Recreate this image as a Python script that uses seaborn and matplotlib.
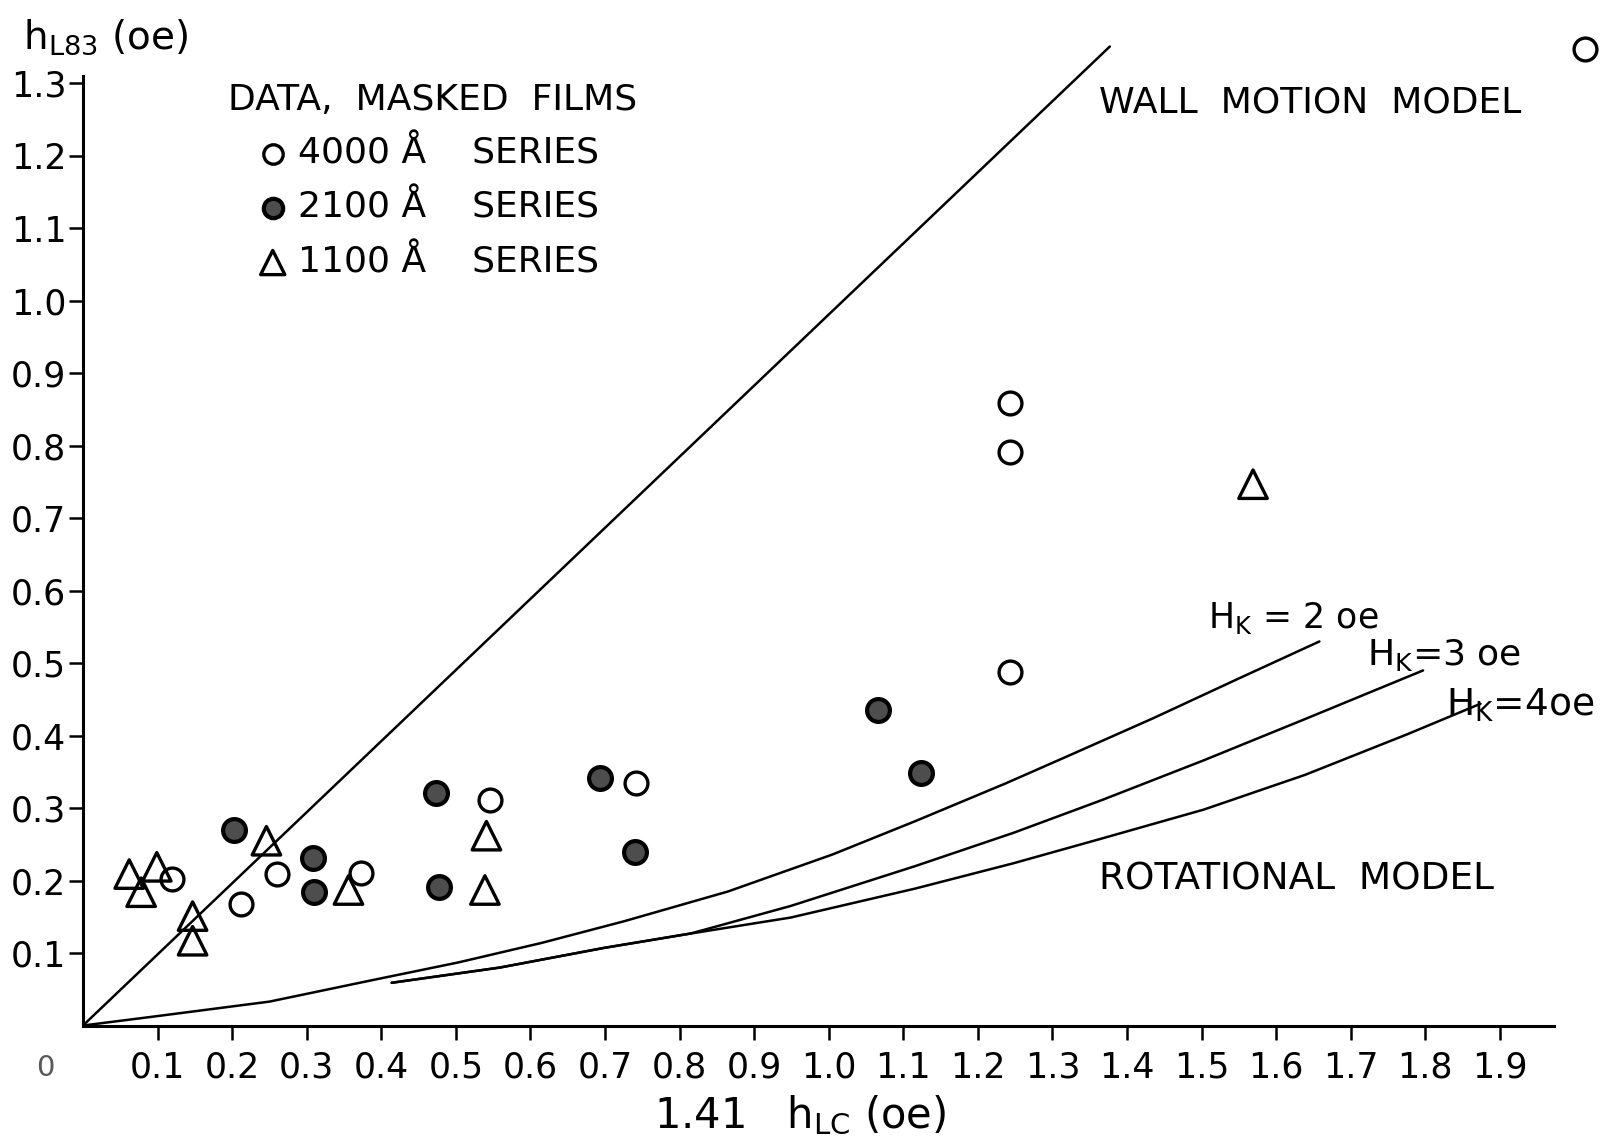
import numpy as np
import pandas as pd
import matplotlib
matplotlib.use("Agg")
import matplotlib.pyplot as plt
import seaborn as sns

# ---------------- data ----------------
# 4000 A series (open circles)
s4000_x = [2.014, 1.243, 1.243, 1.243, 0.546, 0.741, 0.373, 0.260, 0.212, 0.120]
s4000_y = [1.347, 0.859, 0.792, 0.488, 0.311, 0.335, 0.211, 0.209, 0.168, 0.202]
# 2100 A series (dotted circles)
s2100_x = [0.202, 0.308, 0.310, 0.473, 0.477, 0.693, 0.740, 1.066, 1.124]
s2100_y = [0.270, 0.231, 0.184, 0.321, 0.191, 0.341, 0.239, 0.436, 0.348]
# 1100 A series (triangles)
s1100_x = [0.062, 0.078, 0.099, 0.147, 0.147, 0.246, 0.356, 0.541, 0.539, 1.569]
s1100_y = [0.209, 0.184, 0.219, 0.151, 0.117, 0.255, 0.187, 0.262, 0.187, 0.747]

# model curves
wall_x = [0.0, 1.377]
wall_y = [0.0, 1.351]
hk2_x = [0.0, 0.092, 0.25, 0.392, 0.503, 0.615, 0.726, 0.865, 1.005, 1.116,
         1.237, 1.321, 1.435, 1.548, 1.658]
hk2_y = [0.0, 0.012, 0.033, 0.0635, 0.087, 0.114, 0.144, 0.185, 0.236, 0.282,
         0.334, 0.372, 0.424, 0.478, 0.530]
hk3_x = [0.414, 0.559, 0.698, 0.815, 0.949, 1.116, 1.248, 1.366, 1.503, 1.639, 1.797]
hk3_y = [0.059, 0.080, 0.107, 0.127, 0.165, 0.220, 0.266, 0.311, 0.366, 0.423, 0.490]
hk4_x = [0.414, 0.559, 0.698, 0.815, 0.949, 1.116, 1.248, 1.366, 1.503, 1.639,
         1.776, 1.874]
hk4_y = [0.059, 0.080, 0.107, 0.127, 0.149, 0.189, 0.224, 0.258, 0.298, 0.346,
         0.402, 0.444]

x_ticks = [0.1, 0.2, 0.3, 0.4, 0.5, 0.6, 0.7, 0.8, 0.9, 1.0,
           1.1, 1.2, 1.3, 1.4, 1.5, 1.6, 1.7, 1.8, 1.9]
x_tick_labels = ["0.1", "0.2", "0.3", "0.4", "0.5", "0.6", "0.7", "0.8", "0.9", "1.0",
                 "1.1", "1.2", "1.3", "1.4", "1.5", "1.6", "1.7", "1.8", "1.9"]
y_ticks = [0.1, 0.2, 0.3, 0.4, 0.5, 0.6, 0.7, 0.8, 0.9, 1.0, 1.1, 1.2, 1.3]
y_tick_labels = ["0.1", "0.2", "0.3", "0.4", "0.5", "0.6", "0.7", "0.8", "0.9",
                 "1.0", "1.1", "1.2", "1.3"]

# ---------------- style ----------------
sns.set_style("ticks")
plt.rcParams["font.family"] = ["DejaVu Sans"]
plt.rcParams["mathtext.fontset"] = "dejavusans"
plt.rcParams["text.color"] = "black"
plt.rcParams["axes.labelcolor"] = "black"
plt.rcParams["xtick.color"] = "black"
plt.rcParams["ytick.color"] = "black"

fig = plt.figure(figsize=(16.08, 11.47), dpi=100)
ax = fig.add_axes([0.0516, 0.1059, 0.9484, 0.894])
ax.set_xlim(0, 2.045)
ax.set_ylim(0, 1.415)

lw = 1.8
for xs, ys in [(wall_x, wall_y), (hk2_x, hk2_y), (hk3_x, hk3_y), (hk4_x, hk4_y)]:
    sns.lineplot(x=xs, y=ys, ax=ax, color="black", lw=lw, sort=False,
                 estimator=None, legend=False)

df4000 = pd.DataFrame({"x": s4000_x, "y": s4000_y})
df2100 = pd.DataFrame({"x": s2100_x, "y": s2100_y})
df1100 = pd.DataFrame({"x": s1100_x, "y": s1100_y})

sns.scatterplot(data=df4000, x="x", y="y", ax=ax, marker="o", s=270,
                facecolor="white", edgecolor="black", linewidth=2.4,
                label="4000 Å    SERIES", zorder=5, clip_on=False)
sns.scatterplot(data=df2100, x="x", y="y", ax=ax, marker="o", s=270,
                facecolor="0.3", edgecolor="black", linewidth=3.0,
                label="2100 Å    SERIES", zorder=5, clip_on=False)
sns.scatterplot(data=df1100, x="x", y="y", ax=ax, marker="^", s=420,
                facecolor="none", edgecolor="black", linewidth=2.4,
                label="1100 Å    SERIES", zorder=5, clip_on=False)

# axes / spines
sns.despine(ax=ax)
ax.spines["left"].set_bounds(0, 1.31)
ax.spines["bottom"].set_bounds(0, 1.972)
for sp in ("left", "bottom"):
    ax.spines[sp].set_linewidth(2.2)
    ax.spines[sp].set_color("black")

ax.set_xticks(x_ticks)
ax.set_xticklabels(x_tick_labels)
ax.set_yticks(y_ticks)
ax.set_yticklabels(y_tick_labels)
ax.tick_params(axis="both", direction="out", length=10, width=1.8,
               labelsize=25, colors="black")
ax.tick_params(axis="y", pad=2)
ax.tick_params(axis="x", pad=8)

ax.set_xlabel("")
ax.set_ylabel("")
ax.text(-0.05, -0.058, "0", transform=ax.transData, fontsize=21,
        ha="center", va="center", color="0.35", clip_on=False)

ax.text(-0.0396, 0.953, r"h$_{\rm L83}$ (oe)", transform=ax.transAxes,
        fontsize=28, ha="left", va="baseline")
ax.text(0.47, -0.10, r"1.41   h$_{\rm LC}$ (oe)", transform=ax.transAxes,
        fontsize=30, ha="center", va="baseline")

ax.text(1.363, 1.274, "WALL  MOTION  MODEL", fontsize=26, ha="left", va="center")
ax.text(1.363, 0.202, "ROTATIONAL  MODEL", fontsize=27, ha="left", va="center")
ax.text(1.509, 0.549, r"H$_{\rm K}$ = 2 oe", fontsize=25, ha="left", va="baseline")
ax.text(1.722, 0.498, r"H$_{\rm K}$=3 oe", fontsize=26, ha="left", va="baseline")
ax.text(1.828, 0.427, r"H$_{\rm K}$=4oe", fontsize=27, ha="left", va="baseline")

leg = ax.legend(title="DATA,  MASKED  FILMS", loc="upper left",
                bbox_to_anchor=(0.083, 0.937), frameon=False, fontsize=26,
                title_fontsize=26, borderpad=0, handletextpad=-0.55,
                handlelength=2.5, labelspacing=0.55, alignment="left",
                markerscale=0.85)

fig.savefig("out.png", dpi=100)
